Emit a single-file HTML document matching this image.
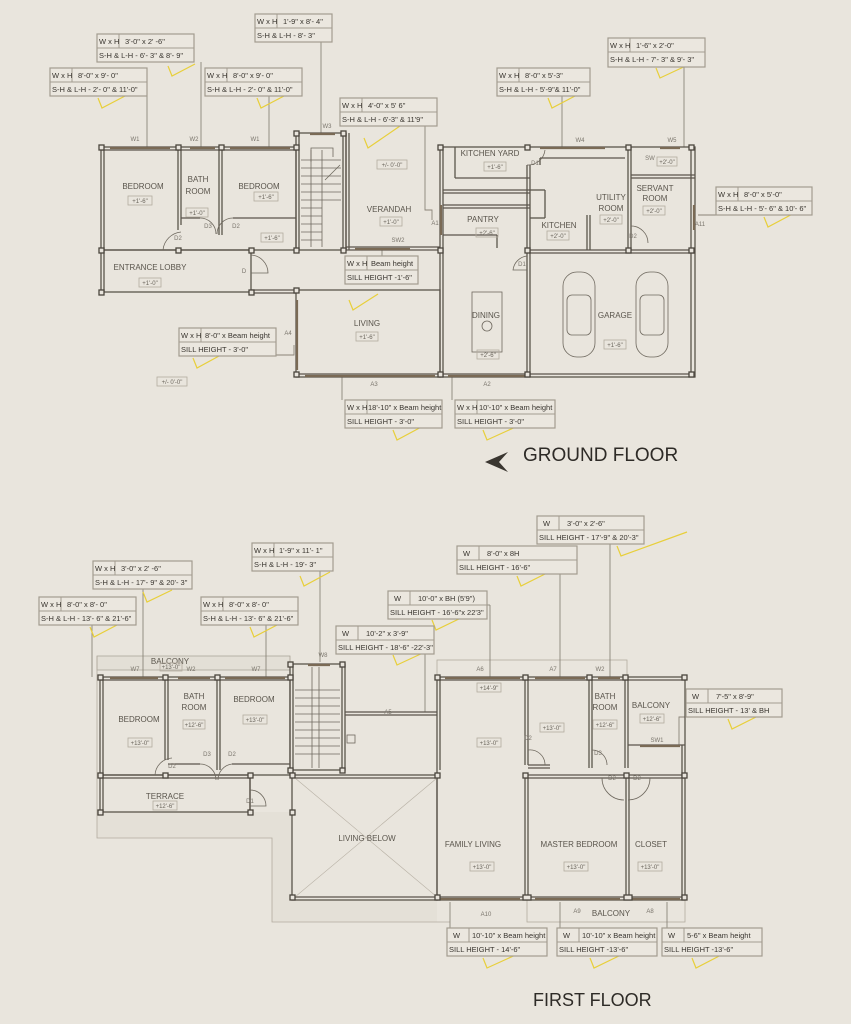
<!DOCTYPE html>
<html><head><meta charset="utf-8"><style>
html,body{margin:0;padding:0;background:#e9e5dd;}
svg{display:block;}
.lb rect{fill:#ebe7df;stroke:#a39c90;stroke-width:1.2}
.lb line{stroke:#a39c90;stroke-width:1}
.lb text{font-family:"Liberation Sans",sans-serif;font-size:7.5px;fill:#3a3630}
.w{fill:none;stroke:#5b554c;stroke-width:1.3}
.col{fill:#e9e5dd;stroke:#4a453d;stroke-width:1.3}
.ld{stroke:#8a8478;stroke-width:0.9;fill:none}
.y{stroke:#e8cf3a;stroke-width:1.2;fill:none}
.rm{font-family:"Liberation Sans",sans-serif;font-size:8px;fill:#5a554c}
.lv{font-family:"Liberation Sans",sans-serif;font-size:6px;fill:#6a655c}
.lvb{fill:none;stroke:#b2ab9f;stroke-width:0.8}
.t{font-family:"Liberation Sans",sans-serif;fill:#7a756c;font-size:6px}
.thin{stroke:#6e685e;stroke-width:0.8;fill:none}
.faint{stroke:#b8b1a5;stroke-width:0.6;fill:none}
.win{stroke:#7a6a55;stroke-width:2.2}
.dot{fill:#e3dfd6;stroke:#a8a195;stroke-width:0.8}
</style></head><body>
<svg width="851" height="1024" viewBox="0 0 851 1024" xmlns="http://www.w3.org/2000/svg">
<rect width="851" height="1024" fill="#e9e5dd"/>

<!-- ================= GROUND FLOOR ================= -->
<g class="ld">
<line x1="147" y1="96" x2="147" y2="147"/>
<line x1="201" y1="62" x2="201" y2="147"/>
<line x1="269" y1="96" x2="269" y2="147"/>
<line x1="321" y1="42" x2="321" y2="133"/>
<polyline points="425,126 425,210 432,210 432,220"/>
<line x1="562" y1="96" x2="562" y2="147"/>
<line x1="684" y1="67" x2="684" y2="147"/>
<line x1="716" y1="215" x2="698" y2="215"/>
<line x1="382" y1="256" x2="382" y2="250"/>
<polyline points="276,355 294,355 294,345"/>
<line x1="342" y1="377" x2="342" y2="400"/>
<line x1="452" y1="377" x2="452" y2="400"/>
</g>
<g class="y">
<polyline points="168,66 172,76 195,64"/>
<polyline points="98,98 102,108 125,96"/>
<polyline points="257,98 261,108 284,96"/>
<polyline points="364,138 368,148 400,126"/>
<polyline points="548,98 552,108 575,96"/>
<polyline points="656,68 660,78 690,64"/>
<polyline points="764,217 768,227 800,210"/>
<polyline points="349,300 353,310 378,294"/>
<polyline points="193,358 197,368 230,350"/>
<polyline points="393,430 397,440 425,425"/>
<polyline points="483,430 487,440 520,425"/>
</g>

<g class="w">
<rect x="101" y="147" width="195" height="103"/>
<line x1="101" y1="150" x2="296" y2="150"/>
<rect x="101" y="250" width="150" height="42"/>
<line x1="104" y1="150" x2="104" y2="292"/>
<line x1="178" y1="150" x2="178" y2="230"/>
<line x1="181" y1="150" x2="181" y2="225"/>
<line x1="222" y1="150" x2="222" y2="235"/>
<line x1="219" y1="150" x2="219" y2="235"/>
<line x1="181" y1="218" x2="200" y2="218"/>
<line x1="233" y1="218" x2="296" y2="218"/>
<rect x="296" y="133" width="50" height="117"/>
<line x1="299" y1="133" x2="299" y2="250"/>
<line x1="343" y1="133" x2="343" y2="250"/>
<line x1="346" y1="133" x2="346" y2="250"/>
<line x1="349" y1="133" x2="349" y2="250"/>
<line x1="346" y1="250" x2="440" y2="250"/>
<line x1="346" y1="247" x2="440" y2="247"/>
<rect x="296" y="290" width="144" height="87"/>
<line x1="251" y1="290" x2="296" y2="290"/>
<line x1="251" y1="293" x2="296" y2="293"/>
<rect x="440" y="147" width="255" height="230"/>
<line x1="443" y1="147" x2="443" y2="377"/>
<line x1="455" y1="147" x2="455" y2="178"/>
<line x1="455" y1="178" x2="530" y2="178"/>
<line x1="443" y1="190" x2="530" y2="190"/>
<line x1="443" y1="193" x2="530" y2="193"/>
<line x1="443" y1="205" x2="530" y2="205"/>
<line x1="443" y1="208" x2="530" y2="208"/>
<line x1="527" y1="165" x2="527" y2="377"/>
<line x1="530" y1="165" x2="530" y2="377"/>
<line x1="443" y1="235" x2="497" y2="235"/>
<line x1="497" y1="235" x2="497" y2="248"/>
<line x1="530" y1="250" x2="695" y2="250"/>
<line x1="530" y1="253" x2="695" y2="253"/>
<line x1="540" y1="158" x2="625" y2="158"/>
<line x1="540" y1="158" x2="540" y2="165"/>
<line x1="530" y1="190" x2="545" y2="190"/>
<line x1="545" y1="190" x2="545" y2="218"/>
<line x1="530" y1="218" x2="545" y2="218"/>
<line x1="587" y1="215" x2="587" y2="250"/>
<line x1="590" y1="215" x2="590" y2="250"/>
<line x1="628" y1="147" x2="628" y2="250"/>
<line x1="631" y1="147" x2="631" y2="250"/>
<line x1="631" y1="175" x2="695" y2="175"/>
<line x1="631" y1="178" x2="695" y2="178"/>
<line x1="691" y1="147" x2="691" y2="377"/>
<line x1="296" y1="374" x2="440" y2="374"/>
<line x1="440" y1="374" x2="695" y2="374"/>
</g>
<g class="thin">
<line x1="311" y1="150" x2="311" y2="247"/>
<line x1="322" y1="150" x2="322" y2="247"/>
<line x1="301" y1="160" x2="341" y2="160"/><line x1="301" y1="168" x2="341" y2="168"/><line x1="301" y1="176" x2="341" y2="176"/><line x1="301" y1="184" x2="341" y2="184"/><line x1="301" y1="192" x2="341" y2="192"/><line x1="301" y1="200" x2="341" y2="200"/><line x1="301" y1="208" x2="322" y2="208"/><line x1="301" y1="216" x2="322" y2="216"/><line x1="301" y1="224" x2="322" y2="224"/><line x1="301" y1="232" x2="322" y2="232"/><line x1="301" y1="240" x2="322" y2="240"/>
<polyline points="311,162 311,148 333,148 333,157"/>
<line x1="325" y1="180" x2="340" y2="165"/>
<path d="M163,250 A20,20 0 0 1 181,232"/>
<path d="M200,218 A16,16 0 0 1 216,234"/>
<path d="M233,218 A16,16 0 0 0 217,234"/>
<path d="M251,255 A18,18 0 0 1 268,273 L251,273"/>
<path d="M527,165 A17,17 0 0 0 545,150"/>
<path d="M527,256 A16,16 0 0 0 513,270 L527,270"/>
<path d="M631,226 A17,17 0 0 1 648,243"/>
<line x1="695" y1="205" x2="695" y2="230"/>
<rect x="472" y="292" width="30" height="60"/>
<circle cx="487" cy="326" r="5"/>
</g>
<g class="win">
<line x1="110" y1="148" x2="170" y2="148"/>
<line x1="190" y1="148" x2="215" y2="148"/>
<line x1="230" y1="148" x2="290" y2="148"/>
<line x1="310" y1="134" x2="335" y2="134"/>
<line x1="540" y1="148" x2="605" y2="148"/>
<line x1="660" y1="148" x2="680" y2="148"/>
<line x1="694" y1="205" x2="694" y2="230"/>
<line x1="297" y1="300" x2="297" y2="370"/>
<line x1="305" y1="376" x2="435" y2="376"/>
<line x1="448" y1="376" x2="525" y2="376"/>
<line x1="355" y1="249" x2="410" y2="249"/>
<line x1="441" y1="205" x2="441" y2="235"/>
</g>
<g class="thin">
<rect x="563" y="272" width="32" height="85" rx="14"/>
<rect x="567" y="295" width="24" height="40" rx="5"/>
<rect x="636" y="272" width="32" height="85" rx="14"/>
<rect x="640" y="295" width="24" height="40" rx="5"/>
</g>
<g class="col">
<rect x="99" y="145" width="5" height="5"/><rect x="176" y="145" width="5" height="5"/><rect x="219" y="145" width="5" height="5"/><rect x="294" y="145" width="5" height="5"/><rect x="294" y="131" width="5" height="5"/><rect x="341" y="131" width="5" height="5"/>
<rect x="99" y="248" width="5" height="5"/><rect x="176" y="248" width="5" height="5"/><rect x="249" y="248" width="5" height="5"/><rect x="294" y="248" width="5" height="5"/><rect x="341" y="248" width="5" height="5"/>
<rect x="99" y="290" width="5" height="5"/><rect x="249" y="290" width="5" height="5"/><rect x="294" y="288" width="5" height="5"/><rect x="294" y="372" width="5" height="5"/><rect x="438" y="372" width="5" height="5"/><rect x="525" y="372" width="5" height="5"/><rect x="689" y="372" width="5" height="5"/>
<rect x="438" y="145" width="5" height="5"/><rect x="525" y="145" width="5" height="5"/><rect x="626" y="145" width="5" height="5"/><rect x="689" y="145" width="5" height="5"/>
<rect x="438" y="248" width="5" height="5"/><rect x="525" y="248" width="5" height="5"/><rect x="626" y="248" width="5" height="5"/><rect x="689" y="248" width="5" height="5"/>
</g>
<g class="rm" text-anchor="middle">
<text x="143" y="189">BEDROOM</text>
<text x="198" y="182">BATH</text><text x="198" y="194">ROOM</text>
<text x="259" y="189">BEDROOM</text>
<text x="150" y="270">ENTRANCE LOBBY</text>
<text x="389" y="212">VERANDAH</text>
<text x="367" y="326">LIVING</text>
<text x="490" y="156">KITCHEN YARD</text>
<text x="483" y="222">PANTRY</text>
<text x="559" y="228">KITCHEN</text>
<text x="611" y="200">UTILITY</text><text x="611" y="211">ROOM</text>
<text x="655" y="191">SERVANT</text><text x="655" y="201">ROOM</text>
<text x="486" y="318">DINING</text>
<text x="615" y="318">GARAGE</text>
</g>
<g class="lv" text-anchor="middle">
<rect class="lvb" x="128" y="196" width="24" height="9"/><text x="140" y="203">+1'-6"</text>
<rect class="lvb" x="186" y="208" width="22" height="9"/><text x="197" y="215">+1'-0"</text>
<rect class="lvb" x="254" y="192" width="24" height="9"/><text x="266" y="199">+1'-6"</text>
<rect class="lvb" x="261" y="233" width="22" height="9"/><text x="272" y="240">+1'-6"</text>
<rect class="lvb" x="139" y="278" width="22" height="9"/><text x="150" y="285">+1'-0"</text>
<rect class="lvb" x="377" y="160" width="30" height="9"/><text x="392" y="167">+/- 0'-0"</text>
<rect class="lvb" x="380" y="217" width="22" height="9"/><text x="391" y="224">+1'-0"</text>
<rect class="lvb" x="356" y="332" width="22" height="9"/><text x="367" y="339">+1'-6"</text>
<rect class="lvb" x="484" y="162" width="22" height="9"/><text x="495" y="169">+1'-6"</text>
<rect class="lvb" x="476" y="228" width="22" height="9"/><text x="487" y="235">+2'-6"</text>
<rect class="lvb" x="547" y="231" width="22" height="9"/><text x="558" y="238">+2'-0"</text>
<rect class="lvb" x="600" y="215" width="22" height="9"/><text x="611" y="222">+2'-0"</text>
<rect class="lvb" x="643" y="206" width="22" height="9"/><text x="654" y="213">+2'-0"</text>
<rect class="lvb" x="657" y="157" width="20" height="9"/><text x="667" y="164">+2'-0"</text>
<rect class="lvb" x="477" y="350" width="22" height="9"/><text x="488" y="357">+2'-6"</text>
<rect class="lvb" x="604" y="340" width="22" height="9"/><text x="615" y="347">+1'-6"</text>
<rect class="lvb" x="157" y="377" width="30" height="9"/><text x="172" y="384">+/- 0'-0"</text>
</g>
<g class="t" text-anchor="middle">
<text x="135" y="141">W1</text><text x="194" y="141">W2</text><text x="255" y="141">W1</text><text x="327" y="128">W3</text>
<text x="580" y="142">W4</text><text x="672" y="142">W5</text><text x="650" y="160">SW</text>
<text x="178" y="240">D2</text><text x="208" y="228">D3</text><text x="236" y="228">D2</text><text x="244" y="273">D</text>
<text x="398" y="242">SW2</text><text x="435" y="225">A1</text><text x="535" y="165">D1</text><text x="522" y="266">D1</text>
<text x="633" y="238">D2</text><text x="700" y="226">A11</text><text x="288" y="335">A4</text>
<text x="374" y="386">A3</text><text x="487" y="386">A2</text>
</g>

<g class="lb">
<g transform="translate(97,34)"><rect width="97" height="28"/><line x1="0" y1="14" x2="97" y2="14"/><line x1="22" y1="0" x2="22" y2="14"/><text x="2" y="10">W x H</text><text x="28" y="10">3'-0" x 2' -6"</text><text x="2" y="24">S-H &amp; L-H -  6'- 3" &amp; 8'- 9"</text></g>
<g transform="translate(50,68)"><rect width="97" height="28"/><line x1="0" y1="14" x2="97" y2="14"/><line x1="22" y1="0" x2="22" y2="14"/><text x="2" y="10">W x H</text><text x="28" y="10">8'-0" x 9'- 0"</text><text x="2" y="24">S-H &amp; L-H -  2'- 0" &amp; 11'-0"</text></g>
<g transform="translate(205,68)"><rect width="97" height="28"/><line x1="0" y1="14" x2="97" y2="14"/><line x1="22" y1="0" x2="22" y2="14"/><text x="2" y="10">W x H</text><text x="28" y="10">8'-0" x 9'- 0"</text><text x="2" y="24">S-H &amp; L-H -  2'- 0" &amp; 11'-0"</text></g>
<g transform="translate(255,14)"><rect width="77" height="28"/><line x1="0" y1="14" x2="77" y2="14"/><line x1="22" y1="0" x2="22" y2="14"/><text x="2" y="10">W x H</text><text x="28" y="10">1'-9" x 8'- 4"</text><text x="2" y="24">S-H &amp; L-H -  8'- 3"</text></g>
<g transform="translate(340,98)"><rect width="97" height="28"/><line x1="0" y1="14" x2="97" y2="14"/><line x1="22" y1="0" x2="22" y2="14"/><text x="2" y="10">W x H</text><text x="28" y="10">4'-0" x 5' 6"</text><text x="2" y="24">S-H &amp; L-H -  6'-3" &amp; 11'9"</text></g>
<g transform="translate(497,68)"><rect width="93" height="28"/><line x1="0" y1="14" x2="93" y2="14"/><line x1="22" y1="0" x2="22" y2="14"/><text x="2" y="10">W x H</text><text x="28" y="10">8'-0" x 5'-3"</text><text x="2" y="24">S-H &amp; L-H -  5'-9"&amp; 11'-0"</text></g>
<g transform="translate(608,38)"><rect width="97" height="29"/><line x1="0" y1="14" x2="97" y2="14"/><line x1="22" y1="0" x2="22" y2="14"/><text x="2" y="10">W x H</text><text x="28" y="10">1'-6" x 2'-0"</text><text x="2" y="24">S-H &amp; L-H -  7'- 3" &amp; 9'- 3"</text></g>
<g transform="translate(716,187)"><rect width="96" height="28"/><line x1="0" y1="14" x2="96" y2="14"/><line x1="22" y1="0" x2="22" y2="14"/><text x="2" y="10">W x H</text><text x="28" y="10">8'-0" x 5'-0"</text><text x="2" y="24">S-H &amp; L-H -  5'- 6" &amp; 10'- 6"</text></g>
<g transform="translate(345,256)"><rect width="73" height="28"/><line x1="0" y1="14" x2="73" y2="14"/><line x1="22" y1="0" x2="22" y2="14"/><text x="2" y="10">W x H</text><text x="26" y="10">Beam height</text><text x="2" y="24">SILL HEIGHT  -1'-6"</text></g>
<g transform="translate(179,328)"><rect width="97" height="28"/><line x1="0" y1="14" x2="97" y2="14"/><line x1="22" y1="0" x2="22" y2="14"/><text x="2" y="10">W x H</text><text x="26" y="10">8'-0" x Beam height</text><text x="2" y="24">SILL HEIGHT  -  3'-0"</text></g>
<g transform="translate(345,400)"><rect width="97" height="28"/><line x1="0" y1="14" x2="97" y2="14"/><line x1="22" y1="0" x2="22" y2="14"/><text x="2" y="10">W x H</text><text x="23" y="10">18'-10" x Beam height</text><text x="2" y="24">SILL HEIGHT  -  3'-0"</text></g>
<g transform="translate(455,400)"><rect width="100" height="28"/><line x1="0" y1="14" x2="100" y2="14"/><line x1="22" y1="0" x2="22" y2="14"/><text x="2" y="10">W x H</text><text x="24" y="10">10'-10" x Beam height</text><text x="2" y="24">SILL HEIGHT  -  3'-0"</text></g>
</g>

<polygon points="485,462 508,452 499,462 508,472" fill="#3a3630"/>
<text x="523" y="461" font-family="Liberation Sans,sans-serif" font-size="19" fill="#2e2b27">GROUND FLOOR</text>

<!-- ================= FIRST FLOOR ================= -->
<path class="dot" d="M97,656 L290,656 L290,670 L97,670 Z"/>
<path d="M97,812 L97,838 L272,838 L272,922 L437,922 L437,900 L292,900 L292,812 Z" fill="#e4e0d7" stroke="none"/>
<polyline class="lvb" points="97,656 97,838 272,838 272,922 450,922"/>
<rect class="lvb" x="437" y="660" width="190" height="17"/>
<rect class="lvb" x="527" y="900" width="158" height="22"/>

<g class="ld">
<line x1="143" y1="589" x2="143" y2="677"/>
<line x1="92" y1="625" x2="92" y2="677"/>
<line x1="266" y1="625" x2="266" y2="677"/>
<line x1="320" y1="571" x2="320" y2="662"/>
<line x1="487" y1="605" x2="490" y2="605"/><line x1="490" y1="605" x2="490" y2="677"/>
<line x1="425" y1="654" x2="425" y2="712"/>
<line x1="560" y1="574" x2="560" y2="677"/>
<line x1="610" y1="544" x2="610" y2="677"/>
<polyline points="686,717 679,717 679,745"/>
<line x1="450" y1="902" x2="450" y2="928"/>
<line x1="560" y1="902" x2="560" y2="928"/>
<line x1="667" y1="902" x2="667" y2="928"/>
</g>
<g class="y">
<polyline points="143,592 147,602 172,590"/>
<polyline points="90,627 94,637 117,625"/>
<polyline points="250,627 254,637 277,625"/>
<polyline points="300,576 304,586 330,572"/>
<polyline points="432,620 436,630 465,616"/>
<polyline points="393,655 397,665 425,652"/>
<polyline points="517,576 521,586 547,573"/>
<polyline points="617,546 621,556 687,532"/>
<polyline points="728,719 732,729 760,715"/>
<polyline points="483,958 487,968 520,953"/>
<polyline points="590,958 594,968 625,953"/>
<polyline points="692,958 696,968 725,953"/>
</g>

<g class="w">
<rect x="100" y="677" width="190" height="98"/>
<line x1="100" y1="680" x2="290" y2="680"/>
<line x1="103" y1="677" x2="103" y2="812"/>
<rect x="100" y="775" width="150" height="37"/>
<line x1="100" y1="778" x2="250" y2="778"/>
<line x1="165" y1="680" x2="165" y2="760"/><line x1="168" y1="680" x2="168" y2="760"/>
<line x1="217" y1="680" x2="217" y2="770"/><line x1="220" y1="680" x2="220" y2="770"/>
<line x1="168" y1="764" x2="200" y2="764"/>
<line x1="232" y1="764" x2="290" y2="764"/>
<line x1="250" y1="775" x2="250" y2="812"/>
<rect x="290" y="664" width="55" height="106"/>
<line x1="293" y1="664" x2="293" y2="770"/><line x1="342" y1="664" x2="342" y2="770"/>
<line x1="345" y1="712" x2="437" y2="712"/><line x1="345" y1="715" x2="437" y2="715"/>
<rect x="437" y="677" width="248" height="223"/>
<line x1="440" y1="677" x2="440" y2="770"/>
<line x1="437" y1="680" x2="685" y2="680"/>
<line x1="525" y1="677" x2="525" y2="765"/><line x1="528" y1="677" x2="528" y2="765"/>
<line x1="528" y1="765" x2="550" y2="765"/><line x1="528" y1="768" x2="550" y2="768"/>
<line x1="589" y1="677" x2="589" y2="768"/><line x1="592" y1="677" x2="592" y2="768"/>
<line x1="625" y1="677" x2="625" y2="768"/><line x1="628" y1="677" x2="628" y2="768"/>
<line x1="628" y1="745" x2="685" y2="745"/>
<line x1="682" y1="745" x2="682" y2="900"/>
<rect x="292" y="775" width="145" height="125"/>
<line x1="295" y1="778" x2="437" y2="778"/>
<line x1="525" y1="775" x2="685" y2="775"/><line x1="525" y1="778" x2="685" y2="778"/>
<line x1="525" y1="775" x2="525" y2="900"/><line x1="528" y1="778" x2="528" y2="900"/>
<line x1="626" y1="778" x2="626" y2="900"/><line x1="629" y1="778" x2="629" y2="900"/>
<line x1="437" y1="897" x2="685" y2="897"/>
<line x1="295" y1="897" x2="437" y2="897"/>
</g>
<g class="faint">
<line x1="295" y1="778" x2="437" y2="897"/>
<line x1="437" y1="778" x2="295" y2="897"/>
</g>
<g class="thin">
<line x1="312" y1="667" x2="312" y2="768"/><line x1="319" y1="667" x2="319" y2="768"/>
<line x1="295" y1="690" x2="340" y2="690"/><line x1="295" y1="698" x2="340" y2="698"/><line x1="295" y1="706" x2="340" y2="706"/><line x1="295" y1="714" x2="340" y2="714"/><line x1="295" y1="722" x2="340" y2="722"/><line x1="295" y1="730" x2="340" y2="730"/><line x1="295" y1="738" x2="340" y2="738"/><line x1="295" y1="746" x2="340" y2="746"/><line x1="295" y1="754" x2="340" y2="754"/>
<rect x="347" y="735" width="8" height="8"/>
<path d="M155,775 A18,18 0 0 1 172,758"/>
<path d="M200,764 A16,16 0 0 1 216,780"/>
<path d="M232,764 A16,16 0 0 0 218,780"/>
<path d="M250,790 A16,16 0 0 1 266,806 L250,806"/>
<path d="M528,750 A15,15 0 0 1 545,765"/>
<path d="M592,750 A15,15 0 0 1 607,765"/>
<path d="M602,778 A22,22 0 0 0 624,800"/>
<path d="M650,778 A22,22 0 0 1 628,800"/>
</g>
<g class="win">
<line x1="110" y1="678" x2="158" y2="678"/>
<line x1="178" y1="678" x2="210" y2="678"/>
<line x1="225" y1="678" x2="285" y2="678"/>
<line x1="308" y1="665" x2="330" y2="665"/>
<line x1="445" y1="678" x2="520" y2="678"/>
<line x1="535" y1="678" x2="585" y2="678"/>
<line x1="598" y1="678" x2="620" y2="678"/>
<line x1="640" y1="746" x2="680" y2="746"/>
<line x1="440" y1="899" x2="520" y2="899"/>
<line x1="535" y1="899" x2="620" y2="899"/>
<line x1="632" y1="899" x2="680" y2="899"/>
</g>
<g class="col">
<rect x="98" y="675" width="5" height="5"/><rect x="163" y="675" width="5" height="5"/><rect x="215" y="675" width="5" height="5"/><rect x="288" y="675" width="5" height="5"/><rect x="288" y="662" width="5" height="5"/><rect x="340" y="662" width="5" height="5"/>
<rect x="98" y="773" width="5" height="5"/><rect x="163" y="773" width="5" height="5"/><rect x="248" y="773" width="5" height="5"/><rect x="288" y="768" width="5" height="5"/><rect x="340" y="768" width="5" height="5"/>
<rect x="98" y="810" width="5" height="5"/><rect x="248" y="810" width="5" height="5"/><rect x="290" y="773" width="5" height="5"/><rect x="290" y="810" width="5" height="5"/>
<rect x="435" y="675" width="5" height="5"/><rect x="523" y="675" width="5" height="5"/><rect x="587" y="675" width="5" height="5"/><rect x="623" y="675" width="5" height="5"/><rect x="682" y="675" width="5" height="5"/>
<rect x="435" y="773" width="5" height="5"/><rect x="523" y="773" width="5" height="5"/><rect x="624" y="773" width="5" height="5"/><rect x="682" y="773" width="5" height="5"/>
<rect x="290" y="895" width="5" height="5"/><rect x="435" y="895" width="5" height="5"/><rect x="523" y="895" width="8" height="5"/><rect x="624" y="895" width="8" height="5"/><rect x="682" y="895" width="5" height="5"/>
</g>
<g class="rm" text-anchor="middle">
<text x="170" y="664">BALCONY</text>
<text x="139" y="722">BEDROOM</text>
<text x="194" y="699">BATH</text><text x="194" y="710">ROOM</text>
<text x="254" y="702">BEDROOM</text>
<text x="165" y="799">TERRACE</text>
<text x="367" y="841">LIVING BELOW</text>
<text x="473" y="847">FAMILY LIVING</text>
<text x="579" y="847">MASTER BEDROOM</text>
<text x="651" y="847">CLOSET</text>
<text x="605" y="699">BATH</text><text x="605" y="710">ROOM</text>
<text x="651" y="708">BALCONY</text>
<text x="611" y="916">BALCONY</text>
</g>
<g class="lv" text-anchor="middle">
<rect class="lvb" x="160" y="663" width="22" height="8"/><text x="171" y="669">+13'-0"</text>
<rect class="lvb" x="128" y="738" width="24" height="9"/><text x="140" y="745">+13'-0"</text>
<rect class="lvb" x="183" y="720" width="22" height="9"/><text x="194" y="727">+12'-6"</text>
<rect class="lvb" x="243" y="715" width="24" height="9"/><text x="255" y="722">+13'-0"</text>
<rect class="lvb" x="153" y="801" width="24" height="9"/><text x="165" y="808">+12'-6"</text>
<rect class="lvb" x="477" y="683" width="24" height="9"/><text x="489" y="690">+14'-9"</text>
<rect class="lvb" x="477" y="738" width="24" height="9"/><text x="489" y="745">+13'-0"</text>
<rect class="lvb" x="540" y="723" width="24" height="9"/><text x="552" y="730">+13'-0"</text>
<rect class="lvb" x="593" y="720" width="24" height="9"/><text x="605" y="727">+12'-6"</text>
<rect class="lvb" x="640" y="714" width="24" height="9"/><text x="652" y="721">+12'-6"</text>
<rect class="lvb" x="470" y="862" width="24" height="9"/><text x="482" y="869">+13'-0"</text>
<rect class="lvb" x="564" y="862" width="24" height="9"/><text x="576" y="869">+13'-0"</text>
<rect class="lvb" x="638" y="862" width="24" height="9"/><text x="650" y="869">+13'-0"</text>
</g>
<g class="t" text-anchor="middle">
<text x="135" y="671">W7</text><text x="191" y="671">W2</text><text x="256" y="671">W7</text><text x="323" y="657">W8</text>
<text x="388" y="714">A5</text><text x="480" y="671">A6</text><text x="553" y="671">A7</text><text x="600" y="671">W2</text>
<text x="172" y="768">D2</text><text x="207" y="756">D3</text><text x="232" y="756">D2</text><text x="250" y="803">D1</text>
<text x="528" y="740">D2</text><text x="598" y="755">D3</text><text x="612" y="780">D2</text><text x="637" y="780">D2</text>
<text x="657" y="742">SW1</text><text x="486" y="916">A10</text><text x="577" y="913">A9</text><text x="650" y="913">A8</text>
</g>
<g class="lb">
<g transform="translate(93,561)"><rect width="99" height="28"/><line x1="0" y1="14" x2="99" y2="14"/><line x1="22" y1="0" x2="22" y2="14"/><text x="2" y="10">W x H</text><text x="28" y="10">3'-0" x 2' -6"</text><text x="2" y="24">S-H &amp; L-H -  17'- 9" &amp; 20'- 3"</text></g>
<g transform="translate(39,597)"><rect width="97" height="28"/><line x1="0" y1="14" x2="97" y2="14"/><line x1="22" y1="0" x2="22" y2="14"/><text x="2" y="10">W x H</text><text x="28" y="10">8'-0" x 8'- 0"</text><text x="2" y="24">S-H &amp; L-H -  13'- 6" &amp; 21'-6"</text></g>
<g transform="translate(201,597)"><rect width="97" height="28"/><line x1="0" y1="14" x2="97" y2="14"/><line x1="22" y1="0" x2="22" y2="14"/><text x="2" y="10">W x H</text><text x="28" y="10">8'-0" x 8'- 0"</text><text x="2" y="24">S-H &amp; L-H -  13'- 6" &amp; 21'-6"</text></g>
<g transform="translate(252,543)"><rect width="81" height="28"/><line x1="0" y1="14" x2="81" y2="14"/><line x1="22" y1="0" x2="22" y2="14"/><text x="2" y="10">W x H</text><text x="27" y="10">1'-9" x 11'- 1"</text><text x="2" y="24">S-H &amp; L-H -  19'- 3"</text></g>
<g transform="translate(388,591)"><rect width="99" height="28"/><line x1="0" y1="14" x2="99" y2="14"/><line x1="22" y1="0" x2="22" y2="14"/><text x="6" y="10">W</text><text x="30" y="10">10'-0" x BH (5'9")</text><text x="2" y="24">SILL HEIGHT  - 16'-6"x 22'3"</text></g>
<g transform="translate(336,626)"><rect width="98" height="28"/><line x1="0" y1="14" x2="98" y2="14"/><line x1="22" y1="0" x2="22" y2="14"/><text x="6" y="10">W</text><text x="30" y="10">10'-2" x 3'-9"</text><text x="2" y="24">SILL HEIGHT  - 18'-6" -22'-3"</text></g>
<g transform="translate(457,546)"><rect width="120" height="28"/><line x1="0" y1="14" x2="120" y2="14"/><line x1="22" y1="0" x2="22" y2="14"/><text x="6" y="10">W</text><text x="30" y="10">8'-0" x 8H</text><text x="2" y="24">SILL HEIGHT  - 16'-6"</text></g>
<g transform="translate(537,516)"><rect width="107" height="28"/><line x1="0" y1="14" x2="107" y2="14"/><line x1="22" y1="0" x2="22" y2="14"/><text x="6" y="10">W</text><text x="30" y="10">3'-0" x 2'-6"</text><text x="2" y="24">SILL HEIGHT  - 17'-9" &amp; 20'-3"</text></g>
<g transform="translate(686,689)"><rect width="96" height="28"/><line x1="0" y1="14" x2="96" y2="14"/><line x1="22" y1="0" x2="22" y2="14"/><text x="6" y="10">W</text><text x="30" y="10">7'-5" x 8'-9"</text><text x="2" y="24">SILL HEIGHT  - 13' &amp; BH</text></g>
<g transform="translate(447,928)"><rect width="100" height="28"/><line x1="0" y1="14" x2="100" y2="14"/><line x1="22" y1="0" x2="22" y2="14"/><text x="6" y="10">W</text><text x="25" y="10">10'-10" x Beam height</text><text x="2" y="24">SILL HEIGHT  - 14'-6"</text></g>
<g transform="translate(557,928)"><rect width="100" height="28"/><line x1="0" y1="14" x2="100" y2="14"/><line x1="22" y1="0" x2="22" y2="14"/><text x="6" y="10">W</text><text x="25" y="10">10'-10" x Beam height</text><text x="2" y="24">SILL HEIGHT  -13'-6"</text></g>
<g transform="translate(662,928)"><rect width="100" height="28"/><line x1="0" y1="14" x2="100" y2="14"/><line x1="22" y1="0" x2="22" y2="14"/><text x="6" y="10">W</text><text x="25" y="10">5-6" x Beam height</text><text x="2" y="24">SILL HEIGHT  -13'-6"</text></g>
</g>
<text x="533" y="1006" font-family="Liberation Sans,sans-serif" font-size="18" fill="#2e2b27">FIRST FLOOR</text>
</svg>
</body></html>
